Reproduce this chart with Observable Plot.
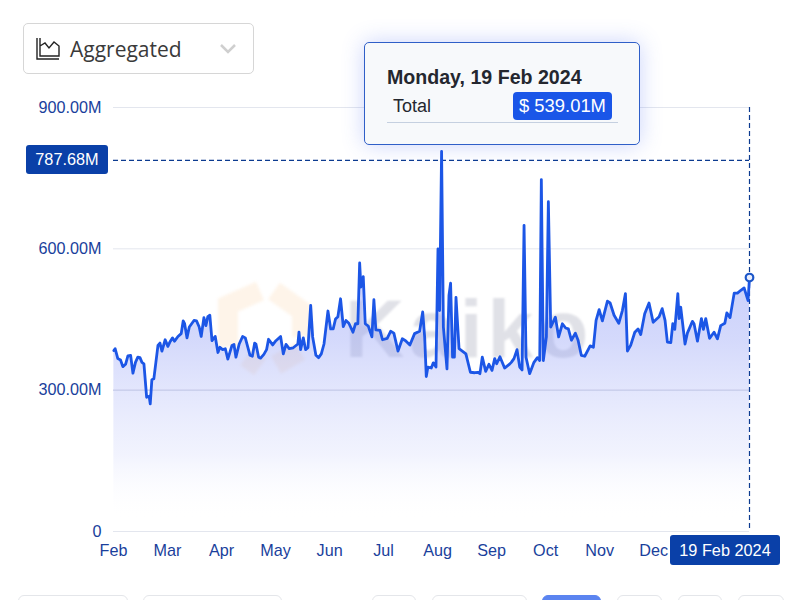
<!DOCTYPE html>
<html><head><meta charset="utf-8">
<script src="https://cdn.jsdelivr.net/npm/d3@7"></script>
<script src="https://cdn.jsdelivr.net/npm/@observablehq/plot@0.6"></script>
<style>
html,body{margin:0;padding:0;background:#fff;overflow:hidden}
#stage{position:relative;width:800px;height:600px;overflow:hidden;font-family:"Liberation Sans",Arial,sans-serif}
#chart{position:absolute;left:0;top:0;z-index:2}
#chart svg{background:transparent;display:block}
.abs{position:absolute;box-sizing:border-box}
.tag{background:#0a40a8;color:#fff;border-radius:3px;font-size:16.3px;display:flex;align-items:center;justify-content:center;z-index:3}
.btn{top:595px;height:30px;border:1px solid #e4e6ea;border-radius:6px;background:#fff;z-index:3}
</style></head><body>
<div id="stage">
  <div class="abs" style="left:345px;top:282px;font:bold 82px 'Liberation Sans',sans-serif;color:#e0e1e7;z-index:1;letter-spacing:5px;filter:blur(.8px)">Kaiko</div>
  <svg class="abs" style="left:210px;top:275px;z-index:1;filter:blur(1.5px)" width="110" height="110" viewBox="0 0 110 110">
    <path d="M50 16 L18 30 L18 72 M36 82 L50 92 M66 90 L90 76 M92 62 L92 36 L64 16" fill="none" stroke="#f9b978" stroke-opacity=".16" stroke-width="20"/>
  </svg>
  <div id="chart"></div>

  <div class="abs" style="left:23px;top:23px;width:231px;height:51px;border:1px solid #d6d6d6;border-radius:5px;background:#fff;z-index:3"></div>
  <svg class="abs" style="left:35px;top:36px;z-index:4" width="26" height="26" viewBox="0 0 26 26">
    <path d="M2 2V23H24M5 2V20H24V10L19 6L14 12L10 7L5 10" fill="none" stroke="#222" stroke-width="1.4"/>
  </svg>
  <div class="abs" style="left:70px;top:35px;font:21px 'Open Sans',sans-serif;color:#3a3a3a;z-index:4;line-height:28px">Aggregated</div>
  <svg class="abs" style="left:219px;top:43px;z-index:4" width="18" height="12" viewBox="0 0 18 12">
    <path d="M2 2L9 9L16 2" fill="none" stroke="#cfcfcf" stroke-width="2.5"/>
  </svg>

  <div class="abs" style="left:364px;top:42px;width:276px;height:103px;background:#f7f9fb;border:1.5px solid #2f5fc8;border-radius:5px;box-shadow:0 0 22px rgba(70,100,240,.28);z-index:3"></div>
  <div class="abs" style="left:387px;top:65px;font:bold 19.6px 'Liberation Sans',sans-serif;color:#24272f;z-index:4;line-height:24px">Monday, 19 Feb 2024</div>
  <div class="abs" style="left:393px;top:94px;font:18px 'Liberation Sans',sans-serif;color:#24272f;z-index:4;line-height:24px">Total</div>
  <div class="abs" style="left:513px;top:92px;width:99px;height:28px;background:#1a56e8;color:#fff;border-radius:4px;font:18.4px/28px 'Liberation Sans',sans-serif;text-align:center;z-index:4">$ 539.01M</div>
  <div class="abs" style="left:387px;top:122px;width:231px;height:1px;background:#c5d0e0;z-index:4"></div>

  <div class="abs tag" style="left:26px;top:145px;width:82px;height:29px">787.68M</div>
  <div class="abs tag" style="left:670px;top:535px;width:110px;height:30px">19 Feb 2024</div>

  <div class="abs btn" style="left:18px;width:110px"></div>
  <div class="abs btn" style="left:143px;width:139px"></div>
  <div class="abs btn" style="left:372px;width:44px"></div>
  <div class="abs btn" style="left:432px;width:95px"></div>
  <div class="abs btn" style="left:542px;width:59px;background:#5b84f0;border-color:#5b84f0"></div>
  <div class="abs btn" style="left:617px;width:45px"></div>
  <div class="abs btn" style="left:678px;width:44px"></div>
  <div class="abs btn" style="left:738px;width:46px"></div>
</div>
<script>
const monthLabels = ["Feb","Mar","Apr","May","Jun","Jul","Aug","Sep","Oct","Nov","Dec"];
const monthTicks = [0,30,60,90,120,150,180,210,240,270,300];
const yTicks = [0,300,600,900];
const crosshairValue = 787.68;
const lastDay = 353.2;
const dayIndex = [0.2,0.9,2.4,3.9,5.2,6.7,8,9.5,10.8,12.2,13.5,14.7,15.8,16.9,18.4,19.8,20.4,21.3,22.4,24.7,25.8,26.9,28.7,30.2,31.3,32.8,33.9,35.8,37.6,38.7,39.5,40.8,42.1,44.7,46.1,47.6,48.7,50.2,51.3,52.4,53.5,54.7,56.5,58,59.1,60.6,62.1,63.5,65.8,66.9,68,69.8,71.7,73.2,74.7,75.8,77.1,78.4,79.1,80.6,81.7,83.5,85,86.1,88.4,90.2,92.8,94.3,95.8,97.6,99.8,102.4,103,103.9,105.4,106.7,108,109.5,110.6,112.4,113.9,115.4,116.9,119.1,120.6,122,123.3,124.6,126.1,127.6,129.1,130.7,133,134.4,135.7,136.7,137.4,138.7,139.8,141.5,143.5,144.6,145.7,148,149.4,152,153.9,155.7,158,160.4,162.2,164.6,167.2,170,171.7,172.8,173.7,174.6,176.5,177.6,179.1,180.2,181.1,182.2,183.2,185.2,186.3,187.2,188.3,189.3,190.2,191.9,193.7,195.7,198.2,200.6,202.4,203.5,204.8,206.7,208.5,210.2,211.7,212.8,214.6,217.2,219.6,220.9,222.4,224.1,225.6,226.9,228,229.1,231.1,233.5,235.4,236.7,237.6,238.7,240.4,241.5,242.8,245.4,247.2,249.3,251.1,252.6,254.3,256.5,258,259.8,261.7,264.7,266.5,268,269.7,271.5,274.3,275.8,278,280.6,282.6,284.3,285.4,287.2,289.5,291.3,292.8,295,297.4,299.7,303,304.7,306.3,307.6,309.5,310.6,311.7,313.4,314.1,315,317.4,318.7,321.5,322.4,324.3,326.5,327.6,328.9,331,333.5,335.4,337.2,339.5,340.6,342.4,344.7,346.5,348.4,350.2,352.4,353.2];
const totalMillions = [384,388,367,364,350,355,373,374,336,359,370,369,359,356,285,287,271,322,324,395,400,383,407,393,402,411,404,414,420,447,441,411,434,448,447,434,414,454,437,456,459,405,414,380,391,386,388,366,395,397,370,398,414,411,390,374,372,400,398,370,368,376,386,408,396,405,414,377,397,388,390,398,423,386,411,386,390,480,413,374,369,377,398,468,430,430,451,456,494,435,448,442,423,441,441,570,519,541,441,436,413,492,428,427,407,410,425,421,383,409,405,396,420,425,466,413,329,349,347,358,349,600,469,807,434,345,501,527,370,370,497,388,383,377,338,337,338,335,370,340,355,342,367,356,371,347,354,359,367,386,349,343,650,370,335,359,369,363,747,363,413,700,434,455,413,441,432,430,406,421,406,374,372,394,391,448,471,447,489,485,459,442,469,505,383,395,423,430,418,462,485,444,456,473,448,402,401,441,429,505,452,476,398,421,446,441,404,452,429,452,410,423,409,437,442,464,454,506,506,512,517,490,539];

const rows = dayIndex.map((d,i)=>({d, v: totalMillions[i]}));
const last = rows[rows.length-1];
const fmtY = v => v === 0 ? "0" : v.toFixed(2) + "M";
const fmtX = v => monthLabels[monthTicks.indexOf(v)];
const blue = "#1a3f9c";

const plot = Plot.plot({
  width: 800, height: 600,
  marginLeft: 113, marginRight: 51, marginTop: 107, marginBottom: 69,
  style: {background:"transparent", fontFamily:"'Liberation Sans',sans-serif", fontSize:"16.2px"},
  x: {domain:[0,lastDay], label:null},
  y: {domain:[0,900], label:null},
  marks: [
    Plot.ruleY(yTicks, {stroke:"#e3e6ee", strokeWidth:1}),
    Plot.areaY(rows, {x:"d", y:"v", fill:"url(#areaFill)"}),
    Plot.ruleY([300], {stroke:"#c6cbe9", strokeWidth:1}),
    Plot.ruleY([crosshairValue], {stroke:"#0c3b90", strokeWidth:1.2, strokeDasharray:"5 3"}),
    Plot.ruleX([lastDay], {stroke:"#0c3b90", strokeWidth:1.2, strokeDasharray:"5 3"}),
    Plot.lineY(rows, {x:"d", y:"v", stroke:"#1c56e6", strokeWidth:2.8, strokeLinejoin:"round"}),
    Plot.dot([last], {x:"d", y:"v", r:3.8, stroke:"#1c56c8", strokeWidth:2.2, fill:"#e8edfd"}),
    Plot.axisY({ticks:yTicks, tickFormat:fmtY, tickSize:0, tickPadding:12, color:blue, label:null}),
    Plot.axisX({ticks:monthTicks, tickFormat:fmtX, tickSize:0, tickPadding:13, color:blue, label:null, textAnchor:"middle"})
  ]
});
d3.select(plot).insert("defs",":first-child").html(
  '<linearGradient id="areaFill" x1="0" y1="0" x2="0" y2="1">'+
  '<stop offset="0" stop-color="#7d8cf6" stop-opacity=".6"/>'+
  '<stop offset=".5" stop-color="#8f9cf6" stop-opacity=".38"/>'+
  '<stop offset=".8" stop-color="#b4bdf8" stop-opacity=".18"/>'+
  '<stop offset=".97" stop-color="#ffffff" stop-opacity="0"/></linearGradient>');
document.getElementById("chart").appendChild(plot);
</script>
</body></html>
